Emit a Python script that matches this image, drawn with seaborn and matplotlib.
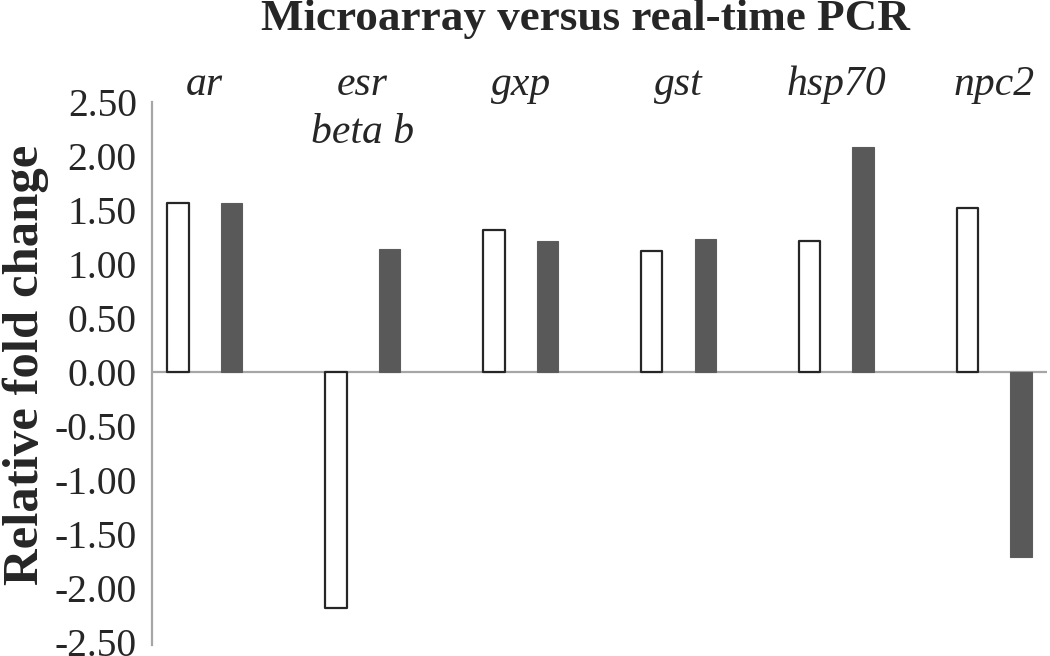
import matplotlib as mpl
import matplotlib.pyplot as plt
import pandas as pd
import seaborn as sns

mpl.use("Agg")

# values
genes = ["ar", "esr\nbeta b", "gxp", "gst", "hsp70", "npc2"]
microarray = [1.57, -2.18, 1.32, 1.12, 1.21, 1.52]
realtime_pcr = [1.57, 1.14, 1.21, 1.23, 2.08, -1.71]
methods = ["Microarray", "Real-time PCR"]
y_ticks = [2.5, 2.0, 1.5, 1.0, 0.5, 0.0, -0.5, -1.0, -1.5, -2.0, -2.5]


def build_frame() -> pd.DataFrame:
    rows = []
    for gene, m, p in zip(genes, microarray, realtime_pcr):
        rows.append({"Gene": gene, "Method": methods[0], "Fold": m})
        rows.append({"Gene": gene, "Method": methods[1], "Fold": p})
    return pd.DataFrame(rows)


def main():
    df = build_frame()

    sns.set_theme(style="white")
    plt.rcParams["font.family"] = ["Liberation Serif", "DejaVu Serif"]

    fig = plt.figure(figsize=(10.5, 6.56), dpi=100)
    ax = fig.add_axes([0.1448, 0.0175, 0.852, 0.827])

    sns.barplot(
        data=df,
        x="Gene",
        y="Fold",
        hue="Method",
        order=genes,
        hue_order=methods,
        palette=["white", "#595959"],
        width=0.677,
        gap=0.6,
        legend=False,
        ax=ax,
    )

    # white bars get a dark outline, grey bars are solid
    for bar in ax.containers[0]:
        bar.set_edgecolor("#262626")
        bar.set_linewidth(1.6)
        bar.set_joinstyle("round")
    for bar in ax.containers[1]:
        bar.set_edgecolor("#5c5c5c")
        bar.set_linewidth(0.8)

    ax.axhline(0, color="#a6a6a6", lw=1.6, zorder=0.5)

    ax.set_xlim(-0.334, 5.331)
    ax.set_ylim(-2.52, 2.5)
    ax.set_yticks(y_ticks, labels=[f"{v:.2f}" for v in y_ticks])
    ax.tick_params(axis="y", length=0, pad=11, labelsize=28.5)

    ax.xaxis.tick_top()
    ax.set_xticks(range(len(genes)), labels=genes)
    ax.tick_params(axis="x", length=0, pad=26, labelsize=30)
    for lbl in ax.get_xticklabels():
        lbl.set_va("top")
        lbl.set_fontstyle("italic")
        lbl.set_linespacing(1.3)

    ax.set_xlabel("")
    ax.set_ylabel("")
    for side in ["top", "right", "bottom"]:
        ax.spines[side].set_visible(False)
    ax.spines["left"].set_color("#a6a6a6")
    ax.spines["left"].set_linewidth(1.6)

    fig.text(
        585 / 1050, 1 - 19 / 656,
        "Microarray versus real-time PCR",
        ha="center", va="center", fontsize=32.5, weight="bold",
    )
    fig.text(
        26 / 1050, 1 - 365 / 656,
        "Relative fold change",
        ha="center", va="center", rotation=90, fontsize=36.5, weight="bold",
    )

    fig.savefig("out.png", dpi=100)
    plt.close(fig)


if __name__ == "__main__":
    main()
